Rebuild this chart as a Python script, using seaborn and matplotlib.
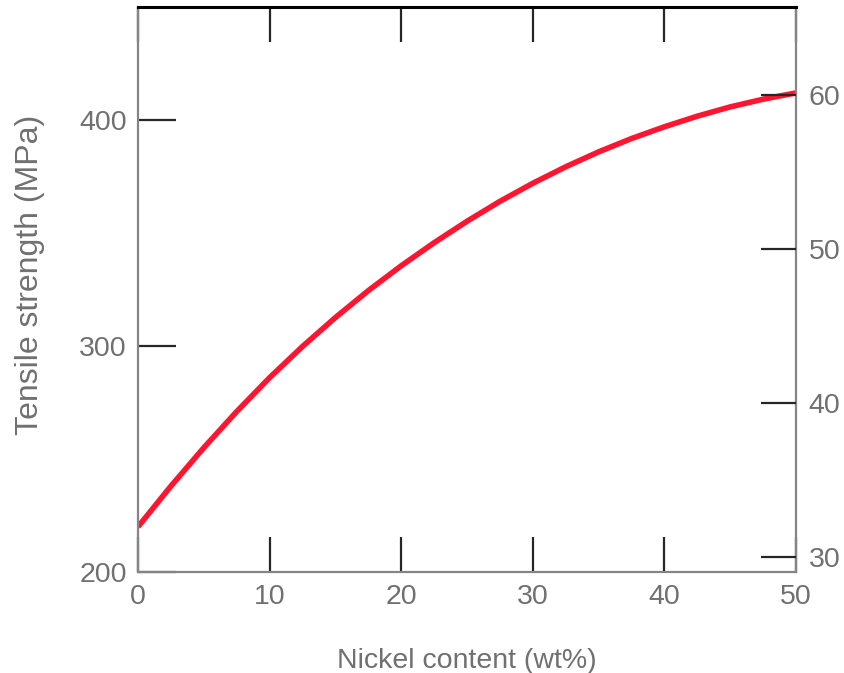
import matplotlib
matplotlib.use("Agg")
import matplotlib.pyplot as plt
import seaborn as sns
import pandas as pd

nickel = [0, 2.5, 5, 7.5, 10, 12.5, 15, 17.5, 20, 22.5, 25, 27.5, 30,
          32.5, 35, 37.5, 40, 42.5, 45, 47.5, 50]
strength = [220, 238, 255, 271, 286, 299.8, 312.6, 324.5, 335.5, 345.7, 355.2,
            364, 372, 379.3, 385.9, 391.8, 397, 401.7, 405.8, 409.2, 412]
x_ticks = [0, 10, 20, 30, 40, 50]
left_ticks = [200, 300, 400]
right_ticks = [30, 40, 50, 60]

sns.set_style("white")
plt.rcParams['font.family'] = ['Liberation Sans', 'DejaVu Sans']

df = pd.DataFrame({"nickel": nickel, "strength": strength})

fig = plt.figure(figsize=(8.45, 6.73), dpi=100)
ax = fig.add_axes([138/845, 1-572/673, (796-138)/845, (572-7)/673])

sns.lineplot(data=df, x="nickel", y="strength", ax=ax, color="#ff1530",
             linewidth=4.0, solid_capstyle="butt")

ax.set_xlim(0, 50)
ax.set_ylim(200, 450)
ax.set_xticks(x_ticks)
ax.set_yticks(left_ticks)

gray = "#858585"
lab = "#707070"
for s in ["left", "right", "bottom"]:
    ax.spines[s].set_color(gray)
    ax.spines[s].set_linewidth(1.6)
ax.spines["top"].set_color("black")
ax.spines["top"].set_linewidth(2.2)

ax.tick_params(axis="x", direction="in", bottom=True, top=True, length=25, width=1.6,
               pad=9, labelsize=20.5, labelcolor=lab)
ax.tick_params(axis="y", direction="in", left=True, right=False, length=27, width=1.6,
               pad=8, labelsize=20.5, labelcolor=lab)

xcols = [gray, gray, "black", "black", gray, gray]
for t, c in zip(ax.xaxis.get_major_ticks(), xcols):
    t.tick1line.set_color(c)
    t.tick2line.set_color(c)
ycols = [gray, gray, "black"]
for t, c in zip(ax.yaxis.get_major_ticks(), ycols):
    t.tick1line.set_color(c)

ax.set_xlabel("Nickel content (wt%)", fontsize=20.5, color=lab, labelpad=27)
ax.set_ylabel("Tensile strength (MPa)", fontsize=23, color=lab)
ax.yaxis.set_label_coords(-0.142, 0.526)

ax2 = ax.twinx()
ax2.set_ylim(29.0, 65.7)
ax2.set_yticks(right_ticks)
ax2.tick_params(axis="y", direction="in", right=True, left=False, length=25, width=1.6,
                pad=9, labelsize=20.5, labelcolor=lab)
rcols = ["black", "black", gray, "black"]
for t, c in zip(ax2.yaxis.get_major_ticks(), rcols):
    t.tick2line.set_color(c)
for s in ax2.spines.values():
    s.set_visible(False)
ax2.grid(False)

fig.savefig("out.png", dpi=100, facecolor="white")
